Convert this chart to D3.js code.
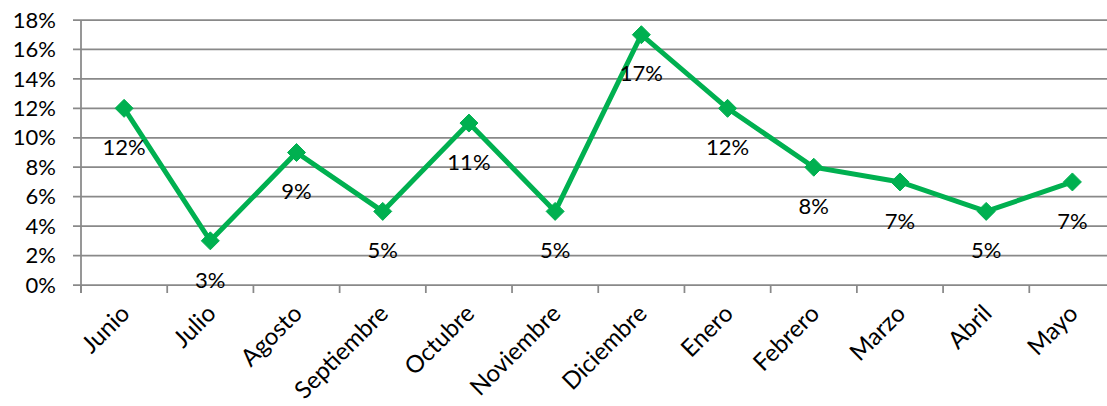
<!DOCTYPE html>
<html>
<head>
<meta charset="utf-8">
<script src="https://cdn.jsdelivr.net/npm/d3@7"></script>
<style>
  html, body { margin: 0; padding: 0; background: #fff; }
  svg { display: block; }
  text { font-family: Lato, "Open Sans", sans-serif; fill: #000; }
</style>
</head>
<body>
<svg id="chart" width="1107" height="406"></svg>
<script>
const months = ["Junio","Julio","Agosto","Septiembre","Octubre","Noviembre","Diciembre","Enero","Febrero","Marzo","Abril","Mayo"];
const values = [0.12,0.03,0.09,0.05,0.11,0.05,0.17,0.12,0.08,0.07,0.05,0.07];
const yTicks = [0,0.02,0.04,0.06,0.08,0.10,0.12,0.14,0.16,0.18];

(function () {
const W = 1107, H = 406;
const plotLeft = 81, plotRight = 1115.5, plotTop = 20, plotBottom = 285;
const gridColor = "#898989";
const green = "#00B050";
const fs = 22;

const svg = d3.select("#chart");
const x = d3.scaleBand().domain(months).range([plotLeft, plotRight]).paddingInner(0).paddingOuter(0);
const y = d3.scaleLinear().domain([0, 0.18]).range([plotBottom, plotTop]);
const cx = d => x(d) + x.bandwidth() / 2;
const fmt = d3.format(".0%");

// gridlines + y ticks
svg.append("g").selectAll("line").data(yTicks).join("line")
  .attr("x1", plotLeft - 8).attr("x2", W)
  .attr("y1", d => y(d)).attr("y2", d => y(d))
  .attr("stroke", gridColor).attr("stroke-width", 1.75);

// y axis
svg.append("line").attr("x1", plotLeft).attr("x2", plotLeft).attr("y1", plotTop).attr("y2", plotBottom + 8)
  .attr("stroke", gridColor).attr("stroke-width", 1.75);

// y labels
svg.append("g").selectAll("text").data(yTicks).join("text")
  .attr("x", 56).attr("y", d => y(d)).attr("dy", "0.35em")
  .attr("text-anchor", "end").attr("font-size", fs)
  .text(d => fmt(d));

// x tick marks
svg.append("g").selectAll("line").data(months).join("line")
  .attr("x1", d => x(d)).attr("x2", d => x(d))
  .attr("y1", plotBottom).attr("y2", plotBottom + 8)
  .attr("stroke", gridColor).attr("stroke-width", 1.75);

// x labels
svg.append("g").selectAll("text").data(months).join("text")
  .attr("transform", d => `translate(${cx(d) + 7},${315}) rotate(-45)`)
  .attr("text-anchor", "end").attr("font-size", 24)
  .text(d => d);

// line
const data = months.map((m, i) => ({m, v: values[i]}));
svg.append("path").datum(data)
  .attr("fill", "none").attr("stroke", green).attr("stroke-width", 5)
  .attr("stroke-linejoin", "miter")
  .attr("d", d3.line().x(d => cx(d.m)).y(d => y(d.v)));

// markers
const r = 9;
svg.append("g").selectAll("path").data(data).join("path")
  .attr("transform", d => `translate(${cx(d.m)},${y(d.v)})`)
  .attr("d", `M0,${-r}L${r},0L0,${r}L${-r},0Z`)
  .attr("fill", green).attr("stroke", green).attr("stroke-width", 1);

// data labels
svg.append("g").selectAll("text").data(data).join("text")
  .attr("x", d => cx(d.m)).attr("y", d => y(d.v) + 39).attr("dy", "0.35em")
  .attr("text-anchor", "middle").attr("font-size", fs)
  .text(d => fmt(d.v));
})();
</script>
</body>
</html>
